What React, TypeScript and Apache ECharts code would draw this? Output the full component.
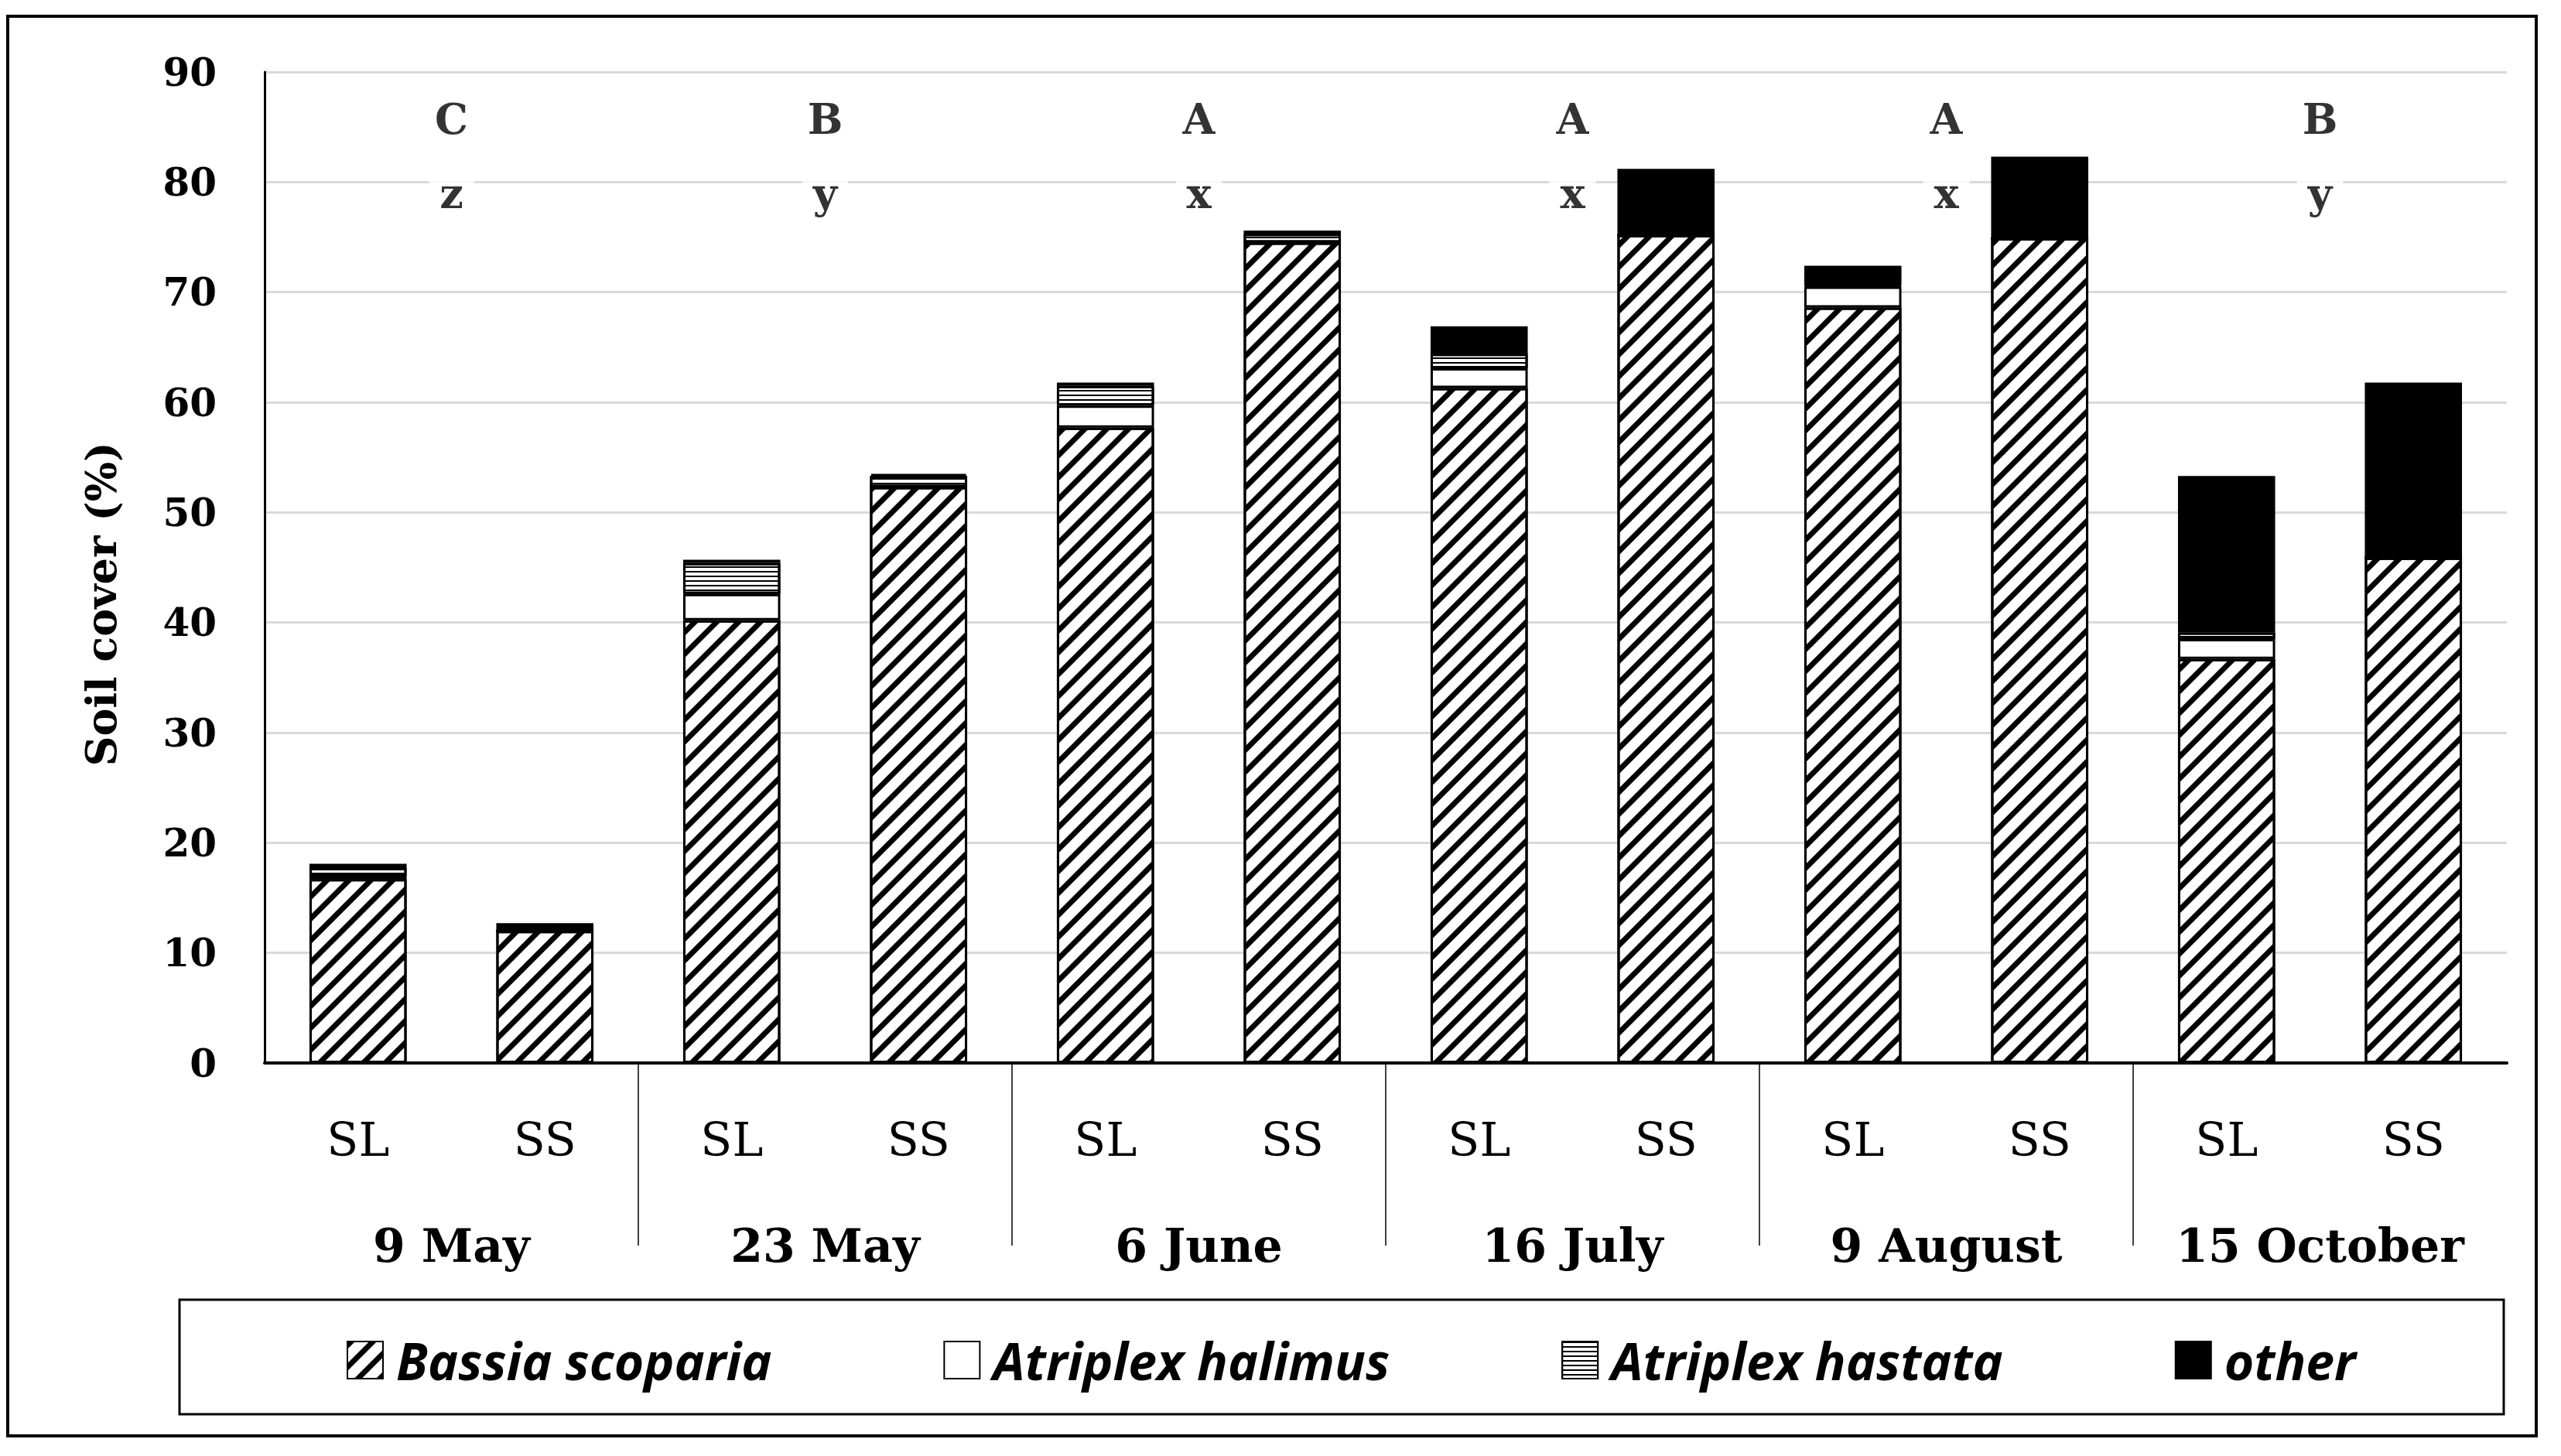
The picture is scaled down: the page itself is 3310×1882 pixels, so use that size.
import React, { useEffect, useRef } from "react";
import * as echarts from "echarts";

const categories = ["SL", "SS", "SL", "SS", "SL", "SS", "SL", "SS", "SL", "SS", "SL", "SS"];
const dates = ["9 May", "23 May", "6 June", "16 July", "9 August", "15 October"];
const bassia = [16.7, 12.0, 40.2, 52.3, 57.7, 74.5, 61.3, 75.2, 68.6, 74.9, 36.7, 45.9];
const halimus = [0.3, 0, 2.4, 0, 2.0, 0, 1.8, 0, 1.9, 0, 1.8, 0];
const hastata = [0.7, 0, 2.8, 1.0, 1.8, 0.8, 1.3, 0, 0.1, 0, 0.6, 0];
const other = [0.4, 0.7, 0.3, 0.2, 0.3, 0.3, 2.5, 6.0, 1.8, 7.4, 14.2, 15.9];
const seriesNames = ["Bassia scoparia", "Atriplex halimus", "Atriplex hastata", "other"];
const upperLetters = ["C", "B", "A", "A", "A", "B"];
const lowerLetters = ["z", "y", "x", "x", "x", "y"];
const yAxisTitle = "Soil cover (%)";

export default function App() {
  const ref = useRef<HTMLDivElement>(null);
  useEffect(() => {
    document.body.style.margin = "0";
    const chart = echarts.init(ref.current!, null, { renderer: "svg" });
    const serif = "DejaVu Serif";
    const border = { borderColor: "#000", borderWidth: 3 };
    const styles: any[] = [
      {
        color: "#fff",
        ...border,
        decal: { symbol: "rect", symbolSize: 1, dashArrayX: [1, 0], dashArrayY: [7, 13], rotation: -Math.PI / 4, color: "#000" },
      },
      { color: "#fff", ...border },
      {
        color: "#fff",
        ...border,
        decal: { symbol: "rect", symbolSize: 1, dashArrayX: [1, 0], dashArrayY: [2, 4], rotation: 0, color: "#000" },
      },
      { color: "#000", ...border },
    ];
    const values = [bassia, halimus, hastata, other];
    const bars = seriesNames.map((name, i) => ({
      name,
      type: "bar",
      stack: "total",
      barWidth: "52%",
      xAxisIndex: 0,
      yAxisIndex: 0,
      data: values[i],
      itemStyle: styles[i],
    }));
    const letterLabel = (arr: string[]) => ({
      show: true,
      position: "inside",
      formatter: (p: any) => arr[p.dataIndex],
      fontFamily: serif,
      fontWeight: "bold",
      fontSize: 54,
      color: "#000",
      backgroundColor: "#fff",
      padding: [2, 14],
    });
    const option: any = {
      animation: false,
      backgroundColor: "#fff",
      grid: { left: 342, right: 70, top: 93, bottom: 508, containLabel: false },
      legend: {
        data: seriesNames,
        left: 443,
        top: 1720,
        icon: "rect",
        itemWidth: 46,
        itemHeight: 48,
        itemGap: 222,
        textStyle: {
          fontFamily: "Open Sans",
          fontStyle: "italic",
          fontWeight: "bold",
          fontSize: 66,
          color: "#000",
          padding: [0, 0, 0, 12],
        },
      },
      xAxis: [
        {
          type: "category",
          data: categories,
          axisLine: { lineStyle: { color: "#000", width: 4 } },
          axisTick: { show: false },
          axisLabel: { interval: 0, fontFamily: serif, fontSize: 60, lineHeight: 60, color: "#000", margin: 69 },
        },
        {
          type: "category",
          data: dates,
          position: "bottom",
          axisLine: { show: false },
          axisTick: { show: false },
          splitLine: { show: false },
          axisLabel: {
            interval: 0,
            fontFamily: serif,
            fontWeight: "bold",
            fontSize: 60,
            lineHeight: 60,
            color: "#000",
            margin: 206,
          },
        },
      ],
      yAxis: {
        type: "value",
        min: 0,
        max: 90,
        interval: 10,
        axisLine: { show: true, lineStyle: { color: "#000", width: 3 } },
        axisTick: { show: false },
        splitLine: { lineStyle: { color: "#d9d9d9", width: 3 } },
        axisLabel: { fontFamily: serif, fontWeight: "bold", fontSize: 50, color: "#000", margin: 62 },
      },
      series: [
        ...bars,
        {
          type: "scatter",
          xAxisIndex: 1,
          yAxisIndex: 0,
          symbolSize: 0,
          silent: true,
          z: 5,
          data: dates.map((_, i) => [i, 85.7]),
          label: letterLabel(upperLetters),
        },
        {
          type: "scatter",
          xAxisIndex: 1,
          yAxisIndex: 0,
          symbolSize: 0,
          silent: true,
          z: 5,
          data: dates.map((_, i) => [i, 79.0]),
          label: letterLabel(lowerLetters),
        },
      ],
    };
    chart.setOption(option);

    const y0 = chart.convertToPixel({ yAxisIndex: 0 }, 0) as number;
    const separators: any[] = [];
    for (let k = 1; k < dates.length; k++) {
      const a = chart.convertToPixel({ xAxisIndex: 0 }, 2 * k - 1) as number;
      const b = chart.convertToPixel({ xAxisIndex: 0 }, 2 * k) as number;
      const x = (a + b) / 2;
      separators.push({
        type: "line",
        shape: { x1: x, y1: y0 + 2, x2: x, y2: y0 + 236 },
        style: { stroke: "#404040", lineWidth: 2 },
      });
    }
    chart.setOption({
      graphic: [
        ...separators,
        {
          type: "text",
          x: 131,
          y: 781,
          rotation: Math.PI / 2,
          style: {
            text: yAxisTitle,
            font: `bold 54px "${serif}"`,
            fill: "#000",
            align: "center",
            verticalAlign: "middle",
          },
        },
        {
          type: "rect",
          shape: { x: 232, y: 1680, width: 3004, height: 148 },
          style: { fill: "none", stroke: "#000", lineWidth: 3 },
        },
        {
          type: "rect",
          shape: { x: 10, y: 21, width: 3268, height: 1835 },
          style: { fill: "none", stroke: "#000", lineWidth: 4 },
        },
      ],
    });
    return () => chart.dispose();
  }, []);
  return <div ref={ref} style={{ width: 3310, height: 1882 }} />;
}
